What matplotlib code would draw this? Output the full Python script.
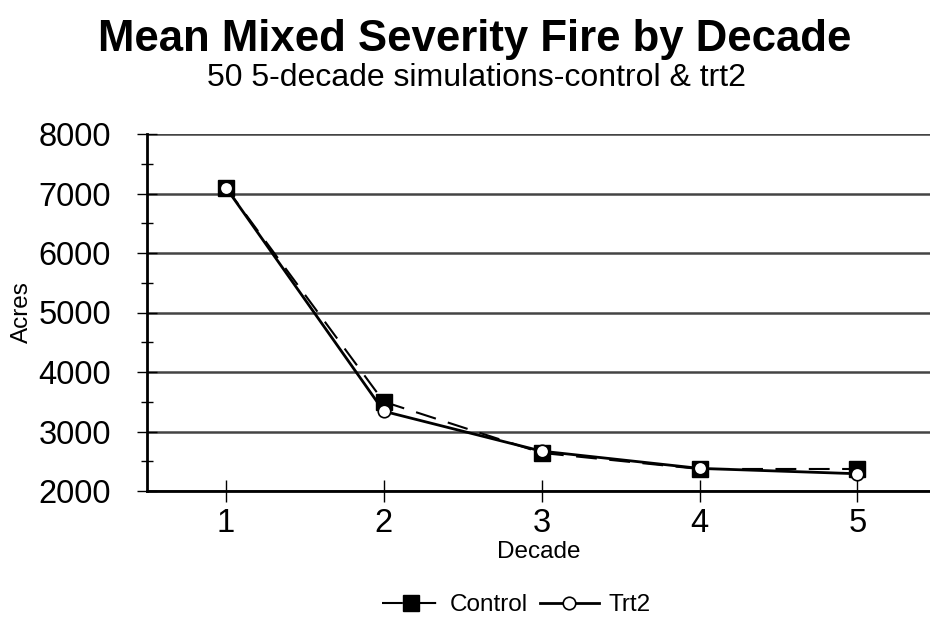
import matplotlib
matplotlib.use("Agg")
import matplotlib.pyplot as plt
from matplotlib.ticker import MultipleLocator

decades = [1, 2, 3, 4, 5]
control = [7100, 3500, 2640, 2370, 2370]
trt2 = [7100, 3340, 2670, 2380, 2290]

plt.rcParams['font.family'] = ['Liberation Sans', 'DejaVu Sans']

fig = plt.figure(figsize=(9.3, 6.18), dpi=100)
ax = fig.add_axes([147/930, 1 - 491/618, 1 - 147/930, (491 - 134)/618])

ax.plot(decades, control, color='black', lw=1.5, dashes=(10, 6), marker='s',
        markersize=11, markerfacecolor='black', markeredgecolor='black', label='Control', zorder=3)
ax.plot(decades, trt2, color='black', lw=2, marker='o', markersize=9,
        markerfacecolor='white', markeredgecolor='black', markeredgewidth=1.2, label='Trt2', zorder=3)

ax.set_xlim(0.5, 5.46)
ax.set_ylim(2000, 8000)
ax.set_xticks(decades)
ax.yaxis.set_major_locator(MultipleLocator(1000))
ax.yaxis.set_minor_locator(MultipleLocator(500))
ax.grid(axis='y', which='major', color='#444444', lw=1.8, zorder=1)
ax.set_axisbelow(True)
for s in ['top', 'right']:
    ax.spines[s].set_visible(False)
for s in ['left', 'bottom']:
    ax.spines[s].set_linewidth(2)
ax.tick_params(axis='y', which='major', direction='inout', length=14, width=1, labelsize=23.5, pad=19)
ax.tick_params(axis='y', which='minor', direction='inout', length=8, width=1)
ax.tick_params(axis='x', which='major', direction='inout', length=16, width=1, labelsize=23.5, pad=4)

ax.set_xlabel('Decade', fontsize=17.5, labelpad=2)
ax.set_ylabel('Acres', fontsize=17.5, labelpad=4)

fig.text(0.51, 1 - 40/618, 'Mean Mixed Severity Fire by Decade', ha='center', va='center',
         fontsize=31.5, fontweight='bold')
fig.text(0.512, 1 - 78/618, '50 5-decade simulations-control & trt2', ha='center', va='center',
         fontsize=23)

fig.legend(loc='center', bbox_to_anchor=(0.555, 1 - 605/618), ncol=2, frameon=False,
           fontsize=17.5, handlelength=2.4, columnspacing=0.5, handletextpad=0.4)

fig.savefig('out.png', dpi=100)
